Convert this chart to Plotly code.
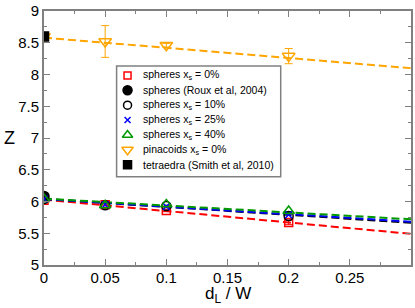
import plotly.graph_objects as go

# ---- data ----
x_sph = [0.0, 0.05, 0.1, 0.2]
z_sph0 = [6.02, 5.95, 5.86, 5.67]
z_sph0_err = [0.0, 0.01, 0.02, 0.035]
z_sph10 = [6.04, 5.94, 5.93, 5.77]
z_sph25 = [6.04, 5.95, 5.92, 5.79]
z_sph40 = [6.04, 5.94, 5.955, 5.85]

x_roux = [0.0]
z_roux = [6.08]

x_pin = [0.0, 0.05, 0.1, 0.2]
z_pin = [8.60, 8.52, 8.46, 8.29]
z_pin_err = [0.06, 0.25, 0.03, 0.12]

x_tet = [0.0]
z_tet = [8.60]

# fitted dashed lines (endpoints)
x_fit = [0.0, 0.3]
fit_sph0 = [6.03, 5.49]
fit_sph10 = [6.04, 5.665]
fit_sph25 = [6.04, 5.68]
fit_sph40 = [6.045, 5.72]
fit_pin = [8.58, 8.10]

x_tickvals = [0, 0.05, 0.1, 0.15, 0.2, 0.25]
x_ticktext = ["0", "0.05", "0.1", "0.15", "0.2", "0.25"]
y_tickvals = [5, 5.5, 6, 6.5, 7, 7.5, 8, 8.5, 9]
y_ticktext = ["5", "5.5", "6", "6.5", "7", "7.5", "8", "8.5", "9"]

legend_names = ["spheres x<sub>s</sub> = 0%", "spheres (Roux et al, 2004)", "spheres x<sub>s</sub> = 10%",
                "spheres x<sub>s</sub> = 25%", "spheres x<sub>s</sub> = 40%", "pinacoids x<sub>s</sub> = 0%",
                "tetraedra (Smith et al, 2010)"]

RED, BLACK, BLUE, GREEN, ORANGE = "#FF0000", "#000000", "#0000FF", "#009900", "#FFA500"
DASH = "8px,4px"
FONT = "Liberation Sans, Arial"

styles = [
    dict(symbol="square-open", size=8, color=RED),
    dict(symbol="circle", size=10, color=BLACK),
    dict(symbol="circle-open", size=9, color=BLACK),
    dict(symbol="x-thin-open", size=7, color=BLUE),
    dict(symbol="triangle-up-open", size=10, color=GREEN),
    dict(symbol="triangle-down-open", size=11, color=ORANGE),
    dict(symbol="square", size=9, color=BLACK),
]

fig = go.Figure()

# fit lines
for y, c in [(fit_sph0, RED), (fit_sph10, BLACK), (fit_sph25, BLUE), (fit_sph40, GREEN), (fit_pin, ORANGE)]:
    fig.add_trace(go.Scatter(x=x_fit, y=y, mode="lines", showlegend=False, hoverinfo="skip",
                             line=dict(color=c, width=2, dash=DASH)))

series = [
    (x_sph, z_sph0, z_sph0_err),
    (x_roux, z_roux, None),
    (x_sph, z_sph10, None),
    (x_sph, z_sph25, None),
    (x_sph, z_sph40, None),
    (x_pin, z_pin, z_pin_err),
    (x_tet, z_tet, None),
]
for (xs, ys, err), st, name in zip(series, styles, legend_names):
    kw = {}
    if err is not None:
        kw["error_y"] = dict(type="data", array=err, color=st["color"], thickness=1, width=4)
    fig.add_trace(go.Scatter(x=xs, y=ys, mode="markers", name=name, showlegend=False,
                             marker=dict(symbol=st["symbol"], size=st["size"], color=st["color"], opacity=1,
                                         line=dict(width=1.5, color=st["color"])), **kw))

# ---- hand-built legend on an overlay axis (pixel-like coordinates) ----
rows = list(range(len(legend_names)))
fig.add_trace(go.Scatter(
    x=[84] * len(rows), y=rows, mode="markers", xaxis="x2", yaxis="y2",
    showlegend=False, hoverinfo="skip",
    marker=dict(symbol=[s["symbol"] for s in styles], size=[s["size"] - 1 for s in styles],
                color=[s["color"] for s in styles], opacity=1,
                line=dict(width=1.5, color=[s["color"] for s in styles])),
))

AX = "#808080"
common = dict(showgrid=False, zeroline=False, showline=True, linecolor=AX, linewidth=2,
              mirror="allticks", ticks="inside", ticklen=6, tickwidth=1, tickcolor=AX,
              ticklabeloverflow="allow",
              tickfont=dict(family=FONT, size=15, color="black"))

fig.update_xaxes(range=[0, 0.3], tickvals=x_tickvals, ticktext=x_ticktext, ticklabelstandoff=-2,
                 minor=dict(dtick=0.025, tick0=0, ticks="inside", ticklen=3, tickcolor=AX, tickwidth=1),
                 **common)
fig.update_yaxes(range=[5, 9], tickvals=y_tickvals, ticktext=y_ticktext,
                 minor=dict(dtick=0.25, tick0=5, ticks="inside", ticklen=3, tickcolor=AX, tickwidth=1),
                 **common)

annotations = [
    dict(text="Z", xref="paper", yref="paper", x=-0.095, y=0.5, showarrow=False,
         xanchor="center", yanchor="middle", font=dict(size=18, family=FONT)),
    dict(text="d<sub>L</sub> / W", xref="paper", yref="paper", x=0.5, y=-0.065, showarrow=False,
         xanchor="center", yanchor="top", font=dict(size=17, family=FONT)),
]
for r, name in zip(rows, legend_names):
    annotations.append(dict(text=name, xref="x2", yref="y2", x=98, y=r, showarrow=False,
                            xanchor="left", yanchor="middle", font=dict(size=10.5, family=FONT, color="black")))

fig.update_layout(
    width=415, height=308,
    margin=dict(l=44, r=2, t=6, b=43),
    paper_bgcolor="white", plot_bgcolor="white",
    font=dict(family=FONT, color="black"),
    showlegend=False,
    xaxis2=dict(overlaying="x", range=[0, 369], visible=False, fixedrange=True),
    yaxis2=dict(overlaying="y", range=[12.74, -4.33], visible=False, fixedrange=True),
    shapes=[dict(type="rect", xref="x2", yref="y2", x0=73, x1=238, y0=-0.64, y1=6.81,
                 line=dict(color=AX, width=1.5), fillcolor="white", layer="below")],
    annotations=annotations,
)

fig.write_html("out.html", config={"displayModeBar": False},
               post_script="document.body.style.margin='0';")
